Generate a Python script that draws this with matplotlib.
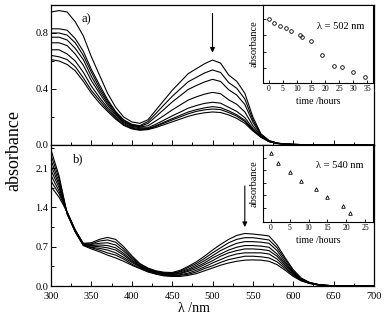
import numpy as np
import matplotlib
matplotlib.use('Agg')
import matplotlib.pyplot as plt
from matplotlib.ticker import MultipleLocator

plt.rcParams['font.family'] = ['Liberation Serif', 'DejaVu Serif']

# wavelengths (nm) shared by all spectra
wl = [300, 310, 320, 330, 340, 350, 360, 370, 380, 390, 400, 410, 420, 430, 440, 450,
      460, 470, 480, 490, 500, 510, 520, 530, 540, 550, 560, 570, 580, 590, 600, 610,
      620, 630, 640, 650, 660, 700]

# panel a) spectra, top -> bottom
spec_a = [
    [0.95, 0.96, 0.95, 0.88, 0.78, 0.63, 0.50, 0.37, 0.27, 0.20, 0.165, 0.155, 0.18, 0.25, 0.32, 0.39,
     0.45, 0.51, 0.545, 0.58, 0.607, 0.585, 0.50, 0.455, 0.37, 0.20, 0.08, 0.032, 0.014, 0.007, 0.004, 0.003,
     0.002, 0.001, 0.0, 0.0, 0.0, 0.0],
    [0.83, 0.83, 0.82, 0.76, 0.67, 0.54, 0.43, 0.325, 0.24, 0.18, 0.148, 0.138, 0.167, 0.226, 0.287, 0.347,
     0.40, 0.452, 0.483, 0.514, 0.536, 0.518, 0.446, 0.405, 0.329, 0.181, 0.075, 0.030, 0.013, 0.007, 0.004, 0.003,
     0.002, 0.001, 0.0, 0.0, 0.0, 0.0],
    [0.80, 0.80, 0.785, 0.73, 0.64, 0.52, 0.41, 0.313, 0.233, 0.174, 0.143, 0.133, 0.154, 0.204, 0.255, 0.307,
     0.352, 0.397, 0.425, 0.45, 0.469, 0.454, 0.395, 0.357, 0.29, 0.163, 0.071, 0.029, 0.013, 0.007, 0.004, 0.003,
     0.002, 0.001, 0.0, 0.0, 0.0, 0.0],
    [0.77, 0.77, 0.75, 0.69, 0.61, 0.49, 0.39, 0.30, 0.225, 0.168, 0.139, 0.129, 0.137, 0.173, 0.211, 0.25,
     0.286, 0.321, 0.344, 0.363, 0.376, 0.366, 0.323, 0.291, 0.237, 0.138, 0.064, 0.027, 0.012, 0.006, 0.004, 0.003,
     0.002, 0.001, 0.0, 0.0, 0.0, 0.0],
    [0.73, 0.73, 0.71, 0.65, 0.57, 0.46, 0.37, 0.285, 0.215, 0.161, 0.133, 0.123, 0.123, 0.149, 0.178, 0.208,
     0.235, 0.263, 0.282, 0.297, 0.305, 0.299, 0.269, 0.24, 0.196, 0.119, 0.06, 0.026, 0.012, 0.006, 0.004, 0.003,
     0.002, 0.001, 0.0, 0.0, 0.0, 0.0],
    [0.68, 0.68, 0.65, 0.60, 0.52, 0.42, 0.34, 0.267, 0.203, 0.153, 0.126, 0.116, 0.117, 0.138, 0.163, 0.188,
     0.212, 0.236, 0.252, 0.265, 0.274, 0.267, 0.244, 0.216, 0.177, 0.11, 0.058, 0.025, 0.011, 0.006, 0.004, 0.003,
     0.002, 0.001, 0.0, 0.0, 0.0, 0.0],
    [0.64, 0.63, 0.61, 0.56, 0.48, 0.39, 0.32, 0.252, 0.193, 0.145, 0.12, 0.11, 0.114, 0.133, 0.156, 0.179,
     0.201, 0.223, 0.24, 0.251, 0.257, 0.253, 0.232, 0.206, 0.168, 0.106, 0.057, 0.025, 0.011, 0.006, 0.004, 0.003,
     0.002, 0.001, 0.0, 0.0, 0.0, 0.0],
    [0.61, 0.60, 0.575, 0.53, 0.455, 0.37, 0.30, 0.24, 0.185, 0.14, 0.115, 0.105, 0.11, 0.125, 0.145, 0.165,
     0.185, 0.205, 0.22, 0.23, 0.236, 0.232, 0.215, 0.19, 0.155, 0.10, 0.055, 0.024, 0.011, 0.006, 0.004, 0.003,
     0.002, 0.001, 0.0, 0.0, 0.0, 0.0],
]

# panel b) spectra, highest at 540 nm -> lowest
spec_b = [
    [1.77, 1.58, 1.32, 1.00, 0.76, 0.77, 0.83, 0.865, 0.83, 0.70, 0.54, 0.40, 0.32, 0.27, 0.245, 0.24,
     0.28, 0.35, 0.43, 0.53, 0.64, 0.74, 0.83, 0.90, 0.935, 0.925, 0.91, 0.89, 0.73, 0.50, 0.29, 0.14,
     0.065, 0.03, 0.012, 0.005, 0.002, 0.0],
    [1.87, 1.64, 1.31, 0.99, 0.75, 0.75, 0.80, 0.82, 0.78, 0.66, 0.51, 0.39, 0.31, 0.26, 0.235, 0.23,
     0.26, 0.33, 0.40, 0.49, 0.59, 0.68, 0.77, 0.83, 0.86, 0.86, 0.84, 0.82, 0.68, 0.47, 0.27, 0.13,
     0.062, 0.028, 0.012, 0.005, 0.002, 0.0],
    [1.97, 1.69, 1.31, 0.99, 0.75, 0.74, 0.76, 0.77, 0.73, 0.62, 0.49, 0.37, 0.30, 0.25, 0.225, 0.22,
     0.25, 0.30, 0.37, 0.45, 0.54, 0.63, 0.70, 0.76, 0.79, 0.79, 0.78, 0.76, 0.63, 0.43, 0.25, 0.125,
     0.059, 0.027, 0.011, 0.005, 0.002, 0.0],
    [2.06, 1.75, 1.30, 0.98, 0.74, 0.72, 0.73, 0.72, 0.68, 0.58, 0.46, 0.36, 0.29, 0.24, 0.215, 0.21,
     0.23, 0.28, 0.34, 0.41, 0.50, 0.57, 0.64, 0.69, 0.72, 0.72, 0.71, 0.69, 0.57, 0.40, 0.24, 0.12,
     0.056, 0.026, 0.011, 0.005, 0.002, 0.0],
    [2.15, 1.80, 1.30, 0.98, 0.74, 0.71, 0.70, 0.68, 0.64, 0.55, 0.44, 0.35, 0.28, 0.24, 0.207, 0.20,
     0.22, 0.26, 0.31, 0.38, 0.45, 0.53, 0.59, 0.63, 0.66, 0.66, 0.65, 0.63, 0.53, 0.37, 0.22, 0.11,
     0.053, 0.024, 0.011, 0.004, 0.002, 0.0],
    [2.24, 1.85, 1.29, 0.97, 0.73, 0.69, 0.67, 0.64, 0.59, 0.51, 0.42, 0.34, 0.27, 0.23, 0.198, 0.19,
     0.20, 0.23, 0.28, 0.34, 0.41, 0.47, 0.53, 0.57, 0.59, 0.59, 0.59, 0.57, 0.48, 0.34, 0.20, 0.105,
     0.051, 0.023, 0.01, 0.004, 0.002, 0.0],
    [2.33, 1.91, 1.29, 0.97, 0.73, 0.68, 0.64, 0.59, 0.55, 0.48, 0.39, 0.32, 0.26, 0.22, 0.189, 0.18,
     0.19, 0.21, 0.25, 0.31, 0.36, 0.42, 0.47, 0.50, 0.53, 0.53, 0.52, 0.50, 0.43, 0.31, 0.19, 0.097,
     0.048, 0.021, 0.01, 0.004, 0.002, 0.0],
    [2.42, 1.96, 1.28, 0.96, 0.72, 0.66, 0.61, 0.55, 0.50, 0.44, 0.37, 0.31, 0.25, 0.21, 0.18, 0.17,
     0.17, 0.19, 0.22, 0.27, 0.32, 0.37, 0.41, 0.44, 0.46, 0.465, 0.46, 0.44, 0.38, 0.28, 0.17, 0.09,
     0.045, 0.02, 0.01, 0.004, 0.002, 0.0],
]

# insets: absorbance vs time
t_a = [0, 2, 4, 6, 8, 11, 12, 15, 19, 23, 26, 30, 34]
abs_a = [0.600, 0.579, 0.560, 0.544, 0.527, 0.501, 0.488, 0.463, 0.380, 0.310, 0.306, 0.273, 0.240]
t_b = [0, 2, 5, 8, 12, 15, 19, 21]
abs_b = [0.94, 0.86, 0.786, 0.714, 0.647, 0.586, 0.514, 0.46]

W, H = 386, 321
fig = plt.figure(figsize=(W / 100, H / 100), dpi=100)

def fx(px): return px / W
def fy(py): return 1 - py / H

L, R = 51, 374
ax1 = fig.add_axes([fx(L), fy(145), fx(R - L), (145 - 5) / H])
ax2 = fig.add_axes([fx(L), fy(286), fx(R - L), (286 - 145) / H])

for ax, spec in ((ax1, spec_a), (ax2, spec_b)):
    for s in spec:
        ax.plot(wl, s, color='black', lw=0.8)
    ax.set_xlim(300, 700)
    ax.xaxis.set_major_locator(MultipleLocator(50))
    ax.xaxis.set_minor_locator(MultipleLocator(25))
    ax.tick_params(which='both', direction='in', labelsize=7.5, width=0.7, pad=2)
    ax.tick_params(axis='x', pad=4)
    ax.tick_params(which='major', length=3.5)
    ax.tick_params(which='minor', length=2)
    for sp in ax.spines.values():
        sp.set_linewidth(0.9)

ax1.set_ylim(0, 1.0)
ax1.set_yticks([0.0, 0.4, 0.8])
ax1.yaxis.set_minor_locator(MultipleLocator(0.2))
ax1.tick_params(labelbottom=False)
ax1.text(338, 0.88, 'a)', fontsize=9)
ax1.annotate('', xy=(500, 0.64), xytext=(500, 0.96),
             arrowprops=dict(arrowstyle='-|>', color='black', lw=0.8, mutation_scale=7))

ax2.set_ylim(0, 2.51)
ax2.set_yticks([0.0, 0.7, 1.4, 2.1])
ax2.yaxis.set_minor_locator(MultipleLocator(0.35))
ax2.text(327, 2.21, 'b)', fontsize=9)
ax2.annotate('', xy=(540, 1.0), xytext=(540, 1.83),
             arrowprops=dict(arrowstyle='-|>', color='black', lw=0.8, mutation_scale=7))

fig.text(fx(14), fy(150), 'absorbance', rotation=90, ha='center', va='center', fontsize=13)
fig.text(fx(194), fy(309), 'λ /nm', ha='center', va='center', fontsize=10)

# insets
in1 = fig.add_axes([fx(263), fy(83), fx(373 - 263), (83 - 5) / H])
in1.plot(t_a, abs_a, 'o', mfc='none', mec='black', ms=2.6, mew=0.6)
in1.set_xlim(-2, 37)
in1.set_ylim(0.205, 0.689)
in1.set_xticks(range(0, 36, 5))
in1.set_yticks([0.3, 0.4, 0.5, 0.6])
in1.text(0.71, 0.73, 'λ = 502 nm', transform=in1.transAxes, ha='center', va='center', fontsize=7.5)

in2 = fig.add_axes([fx(263), fy(222), fx(373 - 263), (222 - 145) / H])
in2.plot(t_b, abs_b, '^', mfc='none', mec='black', ms=2.6, mew=0.6)
in2.set_xlim(-2, 27)
in2.set_ylim(0.385, 1.0)
in2.set_xticks(range(0, 26, 5))
in2.set_yticks([0.5, 0.6, 0.7, 0.8, 0.9])
in2.text(0.70, 0.73, 'λ = 540 nm', transform=in2.transAxes, ha='center', va='center', fontsize=7.5)

for ia in (in1, in2):
    ia.set_facecolor('white')
    ia.set_yticklabels([])
    ia.tick_params(direction='in', length=2, width=0.6, labelsize=5.5, pad=1.5)
    ia.set_xlabel('time /hours', fontsize=7, labelpad=3)
    ia.set_ylabel('absorbance', fontsize=7.5, labelpad=2)
    for sp in ia.spines.values():
        sp.set_linewidth(0.8)

plt.savefig('out.png', dpi=100)
